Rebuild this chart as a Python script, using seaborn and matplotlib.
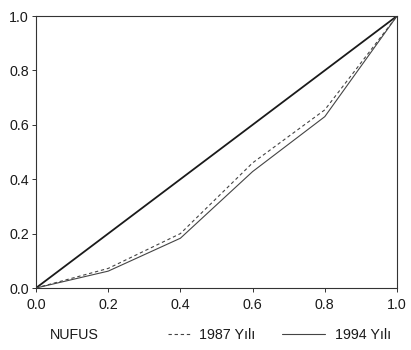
import numpy as np
import pandas as pd
import matplotlib
matplotlib.use("Agg")
import matplotlib.pyplot as plt
import seaborn as sns
from matplotlib.lines import Line2D

# Lorenz curve data
nufus = [0.0, 0.2, 0.4, 0.6, 0.8, 1.0]
yil_1987 = [0.0, 0.072, 0.200, 0.460, 0.655, 1.0]
yil_1994 = [0.0, 0.062, 0.183, 0.428, 0.630, 1.0]
esitlik = [0.0, 0.2, 0.4, 0.6, 0.8, 1.0]
ticks = [0.0, 0.2, 0.4, 0.6, 0.8, 1.0]
tick_labels = ["0.0", "0.2", "0.4", "0.6", "0.8", "1.0"]

sns.set_style("ticks")
plt.rcParams['font.family'] = ['Liberation Sans', 'DejaVu Sans']
FS = 10.3
TXT = "#1a1a1a"

df = pd.DataFrame({"NUFUS": nufus, "1987": yil_1987, "1994": yil_1994, "esit": esitlik})

fig = plt.figure(figsize=(4.11, 3.5), dpi=100)
ax = fig.add_axes([36/411, 1-288/350, (397-36)/411, (288-16)/350])

sns.lineplot(data=df, x="NUFUS", y="esit", ax=ax, color="#1a1a1a", linewidth=1.3, legend=False)
sns.lineplot(data=df, x="NUFUS", y="1987", ax=ax, color="#444444", linewidth=0.8,
             linestyle=(0, (3, 2.5)), legend=False)
sns.lineplot(data=df, x="NUFUS", y="1994", ax=ax, color="#444444", linewidth=0.8, legend=False)

ax.set_xlim(0, 1)
ax.set_ylim(0, 1)
ax.set_xticks(ticks)
ax.set_xticklabels(tick_labels)
ax.set_yticks(ticks)
ax.set_yticklabels(tick_labels)
ax.set_xlabel("")
ax.set_ylabel("")
ax.tick_params(labelsize=FS, length=3, width=0.7, color="#333333", labelcolor=TXT)
ax.tick_params(axis="x", pad=4)
ax.tick_params(axis="y", pad=2)
for s in ax.spines.values():
    s.set_linewidth(0.8)
    s.set_color("#333333")

fig.text(50/411, 1-335/350, "NUFUS", fontsize=FS, va="center", ha="left", color=TXT)
h1 = Line2D([], [], color="#444444", linewidth=0.8, linestyle=(0, (3, 2.5)))
h2 = Line2D([], [], color="#444444", linewidth=0.8)
leg1 = fig.legend([h1], ["1987 Yılı"], loc="center left", bbox_to_anchor=(168/411, 1-335/350),
                  frameon=False, fontsize=FS, handlelength=1.6, handletextpad=0.6,
                  borderaxespad=0, borderpad=0, labelcolor=TXT)
leg2 = fig.legend([h2], ["1994 Yılı"], loc="center left", bbox_to_anchor=(282/411, 1-335/350),
                  frameon=False, fontsize=FS, handlelength=3.0, handletextpad=0.7,
                  borderaxespad=0, borderpad=0, labelcolor=TXT)

fig.savefig("out.png", dpi=100)
